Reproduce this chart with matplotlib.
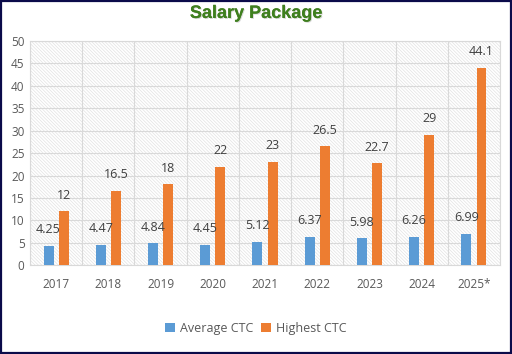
import matplotlib
matplotlib.use("Agg")
import matplotlib.pyplot as plt
import matplotlib.patheffects as pe
import numpy as np

years = ["2017", "2018", "2019", "2020", "2021", "2022", "2023", "2024", "2025*"]
average_ctc = [4.25, 4.47, 4.84, 4.45, 5.12, 6.37, 5.98, 6.26, 6.99]
highest_ctc = [12, 16.5, 18, 22, 23, 26.5, 22.7, 29, 44.1]
avg_labels = ["4.25", "4.47", "4.84", "4.45", "5.12", "6.37", "5.98", "6.26", "6.99"]
high_labels = ["12", "16.5", "18", "22", "23", "26.5", "22.7", "29", "44.1"]

blue = "#5B9BD5"
orange = "#ED7D31"
font = ["Open Sans", "DejaVu Sans"]

plt.rcParams["hatch.linewidth"] = 0.5
plt.rcParams["hatch.color"] = "#e2e2e2"

fig = plt.figure(figsize=(5.12, 3.54), dpi=100)
ax = fig.add_axes([0.0586, 0.251, 0.918, 0.633])

x = np.arange(len(years))
w = 0.19
off = 0.145
ax.bar(x - off, average_ctc, w, color=blue, zorder=3, label="Average CTC")
ax.bar(x + off, highest_ctc, w, color=orange, zorder=3, label="Highest CTC")

for i in range(len(years)):
    ax.annotate(avg_labels[i], (x[i] - off, average_ctc[i]), xytext=(0, 7),
                textcoords="offset points", ha="center", va="bottom",
                fontsize=9, color="#404040", family=font, zorder=4)
    ax.annotate(high_labels[i], (x[i] + off, highest_ctc[i]), xytext=(0, 7),
                textcoords="offset points", ha="center", va="bottom",
                fontsize=9, color="#404040", family=font, zorder=4)

ax.set_xlim(-0.5, len(years) - 0.5)
ax.set_ylim(0, 50)
ax.set_yticks(np.arange(0, 51, 5))
ax.set_xticks(x)
ax.set_xticklabels(years, family=font, fontsize=8.5, color="#595959")
for t in ax.get_yticklabels():
    t.set_family(font)
    t.set_fontsize(8.5)
    t.set_color("#595959")
ax.tick_params(axis="both", length=0)
ax.tick_params(axis="x", pad=9)
ax.tick_params(axis="y", pad=4)

# hatched background
ax.patch.set_facecolor("white")
ax.patch.set_hatch("\\" * 10)
ax.patch.set_edgecolor("#e2e2e2")
ax.patch.set_linewidth(0)

# gridlines
ax.yaxis.grid(True, color="#d9d9d9", linewidth=0.8, zorder=1)
ax.set_axisbelow(True)
for b in np.arange(-0.5, len(years), 1.0):
    ax.axvline(b, color="#d9d9d9", linewidth=0.8, zorder=1)
for s in ax.spines.values():
    s.set_color("#d9d9d9")
    s.set_linewidth(0.8)

fig.text(0.5, 0.962, "Salary Package", ha="center", va="center",
         fontsize=13, fontweight="bold", color="#3F7F1F", family="Liberation Sans",
         path_effects=[pe.withSimplePatchShadow(offset=(0.7, -0.7), shadow_rgbFace="#b0b0b0", alpha=0.5), pe.Normal()])

leg = fig.legend(loc="center", bbox_to_anchor=(0.5, 0.072), ncol=2, frameon=False,
                 prop={"family": font, "size": 9}, handlelength=0.8, handleheight=0.8,
                 columnspacing=0.6, handletextpad=0.4)
for t in leg.get_texts():
    t.set_color("#595959")

# figure border
fig.patches.append(plt.Rectangle((0.002, 0.003), 0.996, 0.994, transform=fig.transFigure,
                                 fill=False, edgecolor="#0b0b4a", linewidth=1.6))

fig.savefig("out.png", dpi=100)
